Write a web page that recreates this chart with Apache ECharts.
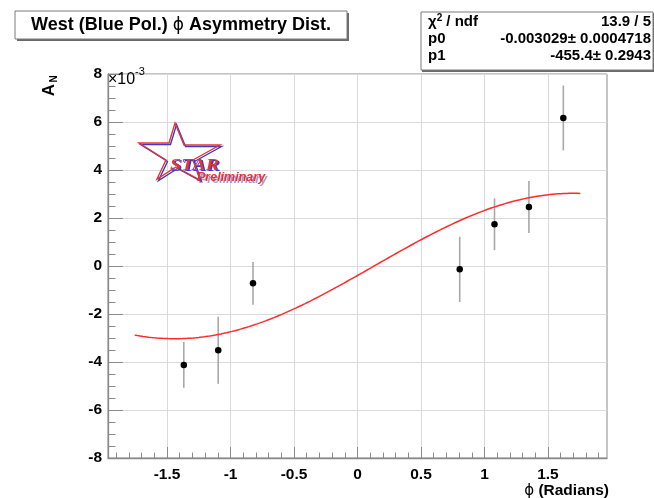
<!DOCTYPE html>
<html>
<head>
<meta charset="utf-8">
<script src="https://cdn.jsdelivr.net/npm/echarts@6/dist/echarts.min.js"></script>
<style>
  html, body { margin: 0; padding: 0; background: #ffffff; }
  #chart { width: 654px; height: 498px; }
</style>
</head>
<body>
<div id="chart"></div>
<script>
// Azimuthal bins (radians) and measured single-spin asymmetry A_N (in units of 1e-3)
const phiBins = [-1.368, -1.097, -0.823, 0.805, 1.079, 1.350, 1.621];
const asymN   = [-4.12, -3.51, -0.72, -0.14, 1.74, 2.46, 6.17];
const asymErr = [0.95, 1.40, 0.89, 1.36, 1.08, 1.08, 1.35];

// Sine fit result: A_N(phi) = p0 * sin(phi - p1)
const fitP0 = -0.003029;
const fitP1 = -455.4;
const fitRange = [-1.755, 1.755];
const fitSamples = 160;

// Fit statistics box
const statNames  = ['χ{sup|2} / ndf', 'p0', 'p1'];
const statValues = ['13.9 / 5', '-0.003029± 0.0004718', '-455.4± 0.2943'];

// Axis ticks
const xMajorTicks = [-1.5, -1, -0.5, 0, 0.5, 1, 1.5];
const xMinorTicks = [];
for (let k = -19; k <= 19; k++) xMinorTicks.push(k / 10);

const yScale = 1000; // axis drawn in units of 1e-3

const fitCurve = [];
for (let i = 0; i <= fitSamples; i++) {
  const x = fitRange[0] + (fitRange[1] - fitRange[0]) * i / fitSamples;
  fitCurve.push([x, fitP0 * Math.sin(x - fitP1) * yScale]);
}
const points = phiBins.map((x, i) => [x, asymN[i], asymErr[i]]);

const FONT = '"Liberation Sans", Arial, Helvetica, sans-serif';
const axisGray = '#8a8a8a';
const gridGray = '#dadada';
const starRed = '#e8362e';
const starBlue = '#3a3ad0';
const starOutline = [[175,123],[184,145],[220,145],[193,160],[200,180],[176,167],[157,179],[166,160],[139,143],[169,143]];

const chart = echarts.init(document.getElementById('chart'), null, { renderer: 'canvas' });

const gridBox = { left: 108, top: 74, width: 499, height: 384 };

const option = {
  backgroundColor: '#ffffff',
  animation: false,
  grid: Object.assign({ show: true, borderColor: axisGray, borderWidth: 1, backgroundColor: 'transparent' }, gridBox),
  xAxis: [
    {
      type: 'value', min: -1.965, max: 1.965, position: 'bottom',
      axisLine: { show: true, onZero: false, lineStyle: { color: axisGray, width: 1.3 } },
      axisTick: { show: true, inside: true, length: 11, customValues: xMajorTicks, lineStyle: { color: axisGray, width: 1 } },
      axisLabel: {
        customValues: xMajorTicks, margin: 9, color: '#000',
        fontFamily: FONT, fontWeight: 'bold', fontSize: 15.5,
        formatter: v => String(v)
      },
      splitLine: { show: true, lineStyle: { color: gridGray, width: 1 } }
    },
    {
      type: 'value', min: -1.965, max: 1.965, position: 'bottom',
      axisLine: { show: false, onZero: false },
      axisTick: { show: true, inside: true, length: 5.5, customValues: xMinorTicks, lineStyle: { color: axisGray, width: 1 } },
      axisLabel: { show: false },
      splitLine: { show: false }
    }
  ],
  yAxis: [
    {
      type: 'value', min: -8, max: 8, interval: 2,
      axisLine: { show: true, onZero: false, lineStyle: { color: axisGray, width: 1.3 } },
      axisTick: { show: true, inside: true, length: 15, lineStyle: { color: axisGray, width: 1 } },
      minorTick: { show: true, splitNumber: 4, length: 7.5, lineStyle: { color: axisGray, width: 1 } },
      axisLabel: {
        margin: 6, color: '#000',
        fontFamily: FONT, fontWeight: 'bold', fontSize: 15.5
      },
      splitLine: { show: true, lineStyle: { color: gridGray, width: 1 } }
    }
  ],
  series: [
    {
      type: 'custom',
      xAxisIndex: 0, yAxisIndex: 0,
      data: points,
      z: 3,
      renderItem: function (params, api) {
        const x = api.value(0), y = api.value(1), e = api.value(2);
        const lo = api.coord([x, y - e]);
        const hi = api.coord([x, y + e]);
        return {
          type: 'line',
          shape: { x1: lo[0], y1: lo[1], x2: hi[0], y2: hi[1] },
          style: { stroke: '#a8a8a8', lineWidth: 1.6 }
        };
      }
    },
    {
      type: 'line',
      xAxisIndex: 0, yAxisIndex: 0,
      data: fitCurve,
      showSymbol: false,
      smooth: false,
      z: 4,
      lineStyle: { color: '#ff2b2b', width: 1.5 }
    },
    {
      type: 'scatter',
      xAxisIndex: 0, yAxisIndex: 0,
      data: points.map(p => [p[0], p[1]]),
      symbol: 'circle', symbolSize: 6.5,
      z: 5,
      itemStyle: { color: '#000000', opacity: 1 }
    }
  ],
  graphic: [
    // Title box with drop shadow
    { type: 'rect', shape: { x: 17, y: 13, width: 332, height: 28 }, style: { fill: '#6a6a6a' }, z: 10 },
    { type: 'rect', shape: { x: 15, y: 11, width: 332, height: 28 }, style: { fill: '#ffffff', stroke: '#7a7a7a', lineWidth: 1 }, z: 11 },
    {
      type: 'text', x: 181, y: 25.5, z: 12,
      style: {
        text: 'West (Blue Pol.) {p|ϕ} Asymmetry Dist.',
        font: 'bold 18px ' + FONT, fill: '#000', align: 'center', verticalAlign: 'middle',
        rich: { p: { fontFamily: '"DejaVu Sans", sans-serif', fontWeight: 'normal', fontSize: 17 } }
      }
    },
    // Fit statistics box
    { type: 'rect', shape: { x: 422, y: 13, width: 232, height: 59 }, style: { fill: '#6a6a6a' }, z: 10 },
    { type: 'rect', shape: { x: 421, y: 12, width: 232, height: 58 }, style: { fill: '#ffffff', stroke: '#7a7a7a', lineWidth: 1 }, z: 11 },
    ...statNames.map((t, i) => ({
      type: 'text', x: 428, y: 22 + i * 16.8, z: 12,
      style: {
        text: t, font: 'bold 15px ' + FONT, fill: '#000', align: 'left', verticalAlign: 'middle',
        rich: { sup: { fontSize: 10, fontWeight: 'bold', fontFamily: FONT, verticalAlign: 'top', padding: [0, 0, 7, 0] } }
      }
    })),
    ...statValues.map((t, i) => ({
      type: 'text', x: 651, y: 22 + i * 16.8, z: 12,
      style: { text: t, font: 'bold 15px ' + FONT, fill: '#000', align: 'right', verticalAlign: 'middle' }
    })),
    // Y axis title A_N
    { type: 'text', x: 49, y: 90, rotation: Math.PI / 2, z: 12,
      style: { text: 'A', font: 'bold 17px ' + FONT, fill: '#000', align: 'center', verticalAlign: 'middle' } },
    { type: 'text', x: 54, y: 79, rotation: Math.PI / 2, z: 12,
      style: { text: 'N', font: 'bold 10px ' + FONT, fill: '#000', align: 'center', verticalAlign: 'middle' } },
    // Axis exponent
    { type: 'text', x: 108, y: 72, z: 12,
      style: { text: '×10', font: '16px ' + FONT, fill: '#000', align: 'left', verticalAlign: 'alphabetic' } },
    { type: 'text', x: 135, y: 66, z: 12,
      style: { text: '-3', font: '11px ' + FONT, fill: '#000', align: 'left', verticalAlign: 'alphabetic' } },
    // X axis title
    { type: 'text', x: 609, y: 491, z: 12,
      style: {
        text: '{p|ϕ} (Radians)', font: 'bold 15.5px ' + FONT, fill: '#000', align: 'right', verticalAlign: 'middle',
        rich: { p: { fontFamily: '"DejaVu Sans", sans-serif', fontWeight: 'normal', fontSize: 15 } }
      } },
    // STAR Preliminary badge
    { type: 'polygon', x: 1.5, y: 1.5, z: 12,
      shape: { points: starOutline },
      style: { fill: 'none', stroke: starBlue, lineWidth: 1.4 } },
    { type: 'polygon', z: 13,
      shape: { points: starOutline },
      style: { fill: 'none', stroke: starRed, lineWidth: 1.4 } },
    { type: 'text', x: 171.5, y: 158.5, scaleX: 1.18, z: 14,
      style: { text: 'STAR', font: 'italic bold 17px "Liberation Serif", serif', fill: starBlue, align: 'left', verticalAlign: 'alphabetic' } },
    { type: 'text', x: 170, y: 157, scaleX: 1.18, z: 15,
      style: { text: 'STAR', font: 'italic bold 17px "Liberation Serif", serif', fill: starRed, align: 'left', verticalAlign: 'alphabetic' } },
    { type: 'text', x: 199, y: 173.5, z: 14,
      style: { text: 'Preliminary', font: 'italic bold 12.5px ' + FONT, fill: 'rgba(60,60,200,0.5)', align: 'left', verticalAlign: 'alphabetic' } },
    { type: 'text', x: 197, y: 171.5, z: 15,
      style: { text: 'Preliminary', font: 'italic bold 12.5px ' + FONT, fill: starRed, align: 'left', verticalAlign: 'alphabetic' } }
  ]
};

chart.setOption(option);
</script>
</body>
</html>
